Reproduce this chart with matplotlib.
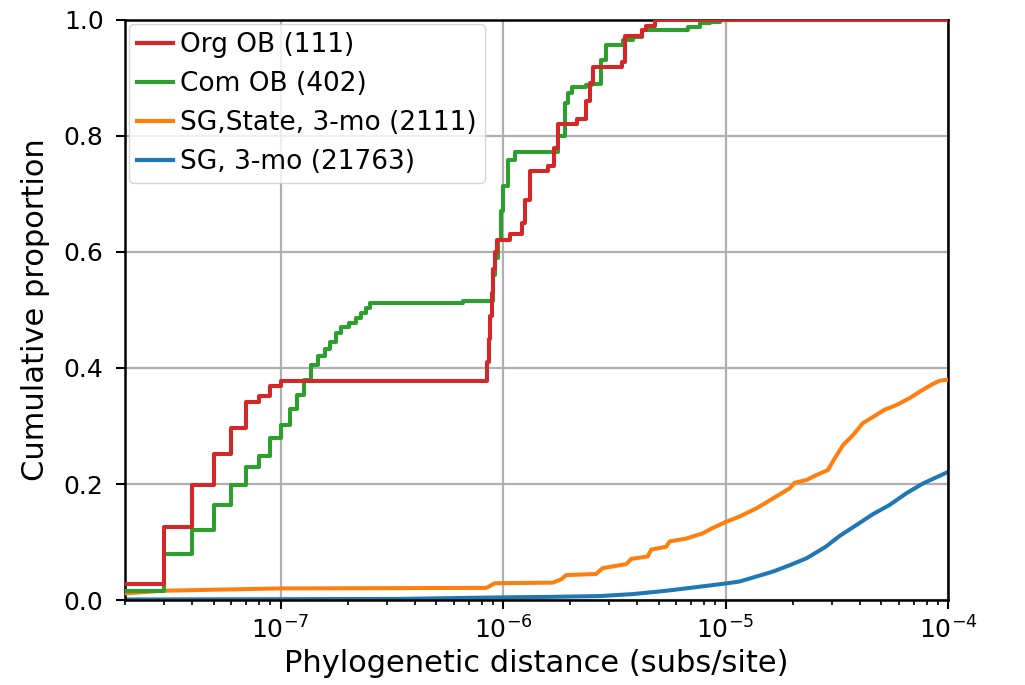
import matplotlib
matplotlib.use("Agg")
import matplotlib.pyplot as plt

# ---- data ----
labels = ["Org OB (111)", "Com OB (402)", "SG,State, 3-mo (2111)", "SG, 3-mo (21763)"]
colors = ["#d62728", "#2ca02c", "#ff7f0e", "#1f77b4"]

org_x = [2e-8, 3e-8, 4e-8, 5e-8, 6e-8, 7e-8, 8e-8, 9e-8, 1e-7, 8.45e-7, 8.6e-7,
         8.75e-7, 8.9e-7, 9.05e-7, 9.2e-7, 9.4e-7, 1.07e-6, 1.21e-6, 1.25e-6,
         1.315e-6, 1.585e-6, 1.70e-6, 1.76e-6, 2.14e-6, 2.37e-6, 2.45e-6,
         2.53e-6, 3.41e-6, 3.52e-6, 4.19e-6, 4.37e-6, 4.80e-6, 1e-4]
org_y = [0.027, 0.126, 0.198, 0.252, 0.297, 0.342, 0.351, 0.369, 0.378, 0.41, 0.45,
         0.49, 0.53, 0.57, 0.60, 0.621, 0.631, 0.65, 0.69, 0.739, 0.748, 0.78,
         0.820, 0.829, 0.86, 0.892, 0.919, 0.928, 0.973, 0.982, 0.99, 1.0, 1.0]

com_x = [2e-8, 3e-8, 4e-8, 5e-8, 6e-8, 7e-8, 8e-8, 9e-8, 1e-7, 1.1e-7, 1.18e-7,
         1.28e-7, 1.37e-7, 1.47e-7, 1.58e-7, 1.66e-7, 1.77e-7, 1.87e-7, 2.04e-7,
         2.19e-7, 2.31e-7, 2.41e-7, 2.51e-7, 6.59e-7, 9.0e-7, 9.2e-7, 9.46e-7,
         9.75e-7, 1.0e-6, 1.05e-6, 1.13e-6, 1.76e-6, 1.89e-6, 1.95e-6, 2.05e-6,
         2.37e-6, 2.5e-6, 2.76e-6, 2.91e-6, 3.45e-6, 3.82e-6, 4.23e-6, 6.75e-6,
         7.64e-6, 8.47e-6, 9.4e-6, 1e-4]
com_y = [0.015, 0.080, 0.121, 0.164, 0.198, 0.229, 0.248, 0.279, 0.302, 0.329, 0.353,
         0.380, 0.405, 0.420, 0.432, 0.445, 0.461, 0.470, 0.477, 0.486, 0.494, 0.503,
         0.512, 0.515, 0.56, 0.59, 0.621, 0.67, 0.713, 0.759, 0.773, 0.80, 0.856,
         0.874, 0.885, 0.888, 0.89, 0.93, 0.957, 0.965, 0.970, 0.983, 0.988, 0.994,
         0.997, 1.0, 1.0]

state_x = [2e-8, 2.95e-8, 5.32e-8, 9.9e-8, 8.4e-7, 8.7e-7, 9.16e-7, 1.67e-6, 1.83e-6,
           1.92e-6, 2.62e-6, 2.80e-6, 3.58e-6, 3.77e-6, 4.46e-6, 4.63e-6, 5.41e-6,
           5.60e-6, 6.65e-6, 7.90e-6, 8.62e-6, 1.007e-5, 1.156e-5, 1.374e-5, 1.63e-5,
           1.94e-5, 2.04e-5, 2.31e-5, 2.56e-5, 2.88e-5, 3.09e-5, 3.37e-5, 3.73e-5,
           4.14e-5, 4.75e-5, 5.18e-5, 5.85e-5, 6.71e-5, 7.44e-5, 8.40e-5, 9.15e-5, 1e-4]
state_y = [0.0115, 0.016, 0.018, 0.020, 0.021, 0.024, 0.029, 0.030, 0.036,
           0.043, 0.045, 0.055, 0.062, 0.071, 0.075, 0.087, 0.092,
           0.101, 0.106, 0.115, 0.123, 0.135, 0.144, 0.158, 0.175,
           0.1925, 0.202, 0.207, 0.2155, 0.224, 0.244, 0.267, 0.284,
           0.305, 0.319, 0.328, 0.336, 0.348, 0.359, 0.371, 0.378, 0.380]

sg_x = [2e-8, 1e-7, 3.43e-7, 9.64e-7, 1.62e-6, 2.72e-6, 3.83e-6, 5.41e-6, 7.64e-6,
        1.007e-5, 1.156e-5, 1.63e-5, 1.94e-5, 2.31e-5, 2.82e-5, 3.24e-5, 3.86e-5,
        4.59e-5, 5.46e-5, 6.49e-5, 7.71e-5, 9.15e-5, 1e-4]
sg_y = [0.001, 0.0015, 0.002, 0.0046, 0.0055, 0.0069, 0.0103, 0.016, 0.023,
        0.0287, 0.032, 0.049, 0.060, 0.072, 0.092, 0.110, 0.129,
        0.148, 0.164, 0.184, 0.201, 0.214, 0.221]

xlim = (2e-8, 1e-4)
ylim = (0.0, 1.0)

# ---- figure ----
fig = plt.figure(figsize=(10.25, 6.85), dpi=100)
ax = fig.add_axes([0.122, 0.124, 0.803, 0.847])

lw = 2.9
ax.step(org_x, org_y, where="post", color=colors[0], lw=lw, label=labels[0], zorder=5)
ax.step(com_x, com_y, where="post", color=colors[1], lw=lw, label=labels[1], zorder=4)
ax.plot(state_x, state_y, color=colors[2], lw=lw, label=labels[2], zorder=3)
ax.plot(sg_x, sg_y, color=colors[3], lw=lw, label=labels[3], zorder=2)

ax.set_xscale("log")
ax.set_xlim(*xlim)
ax.set_ylim(*ylim)
ax.set_yticks([0.0, 0.2, 0.4, 0.6, 0.8, 1.0])

ax.grid(True, which="major", color="#b0b0b0", lw=1.6)
ax.set_axisbelow(True)

for s in ax.spines.values():
    s.set_color("black")
    s.set_linewidth(1.8)

ax.tick_params(axis="both", which="major", labelsize=18, width=1.5, length=6.5, color="black")
ax.tick_params(axis="y", which="major", pad=9)
ax.tick_params(axis="x", which="major", pad=5)
ax.tick_params(axis="x", which="minor", width=1.2, length=3.6, color="black")

ax.set_xlabel("Phylogenetic distance (subs/site)", fontsize=22, labelpad=4)
ax.set_ylabel("Cumulative proportion", fontsize=22, labelpad=10)

leg = ax.legend(loc="upper left", fontsize=19, frameon=True, handlelength=1.35,
                handletextpad=0.3, borderaxespad=0.15, labelspacing=0.5,
                borderpad=0.3)
for h in leg.get_lines():
    h.set_linewidth(3.0)

fig.savefig("out.png", dpi=100)
